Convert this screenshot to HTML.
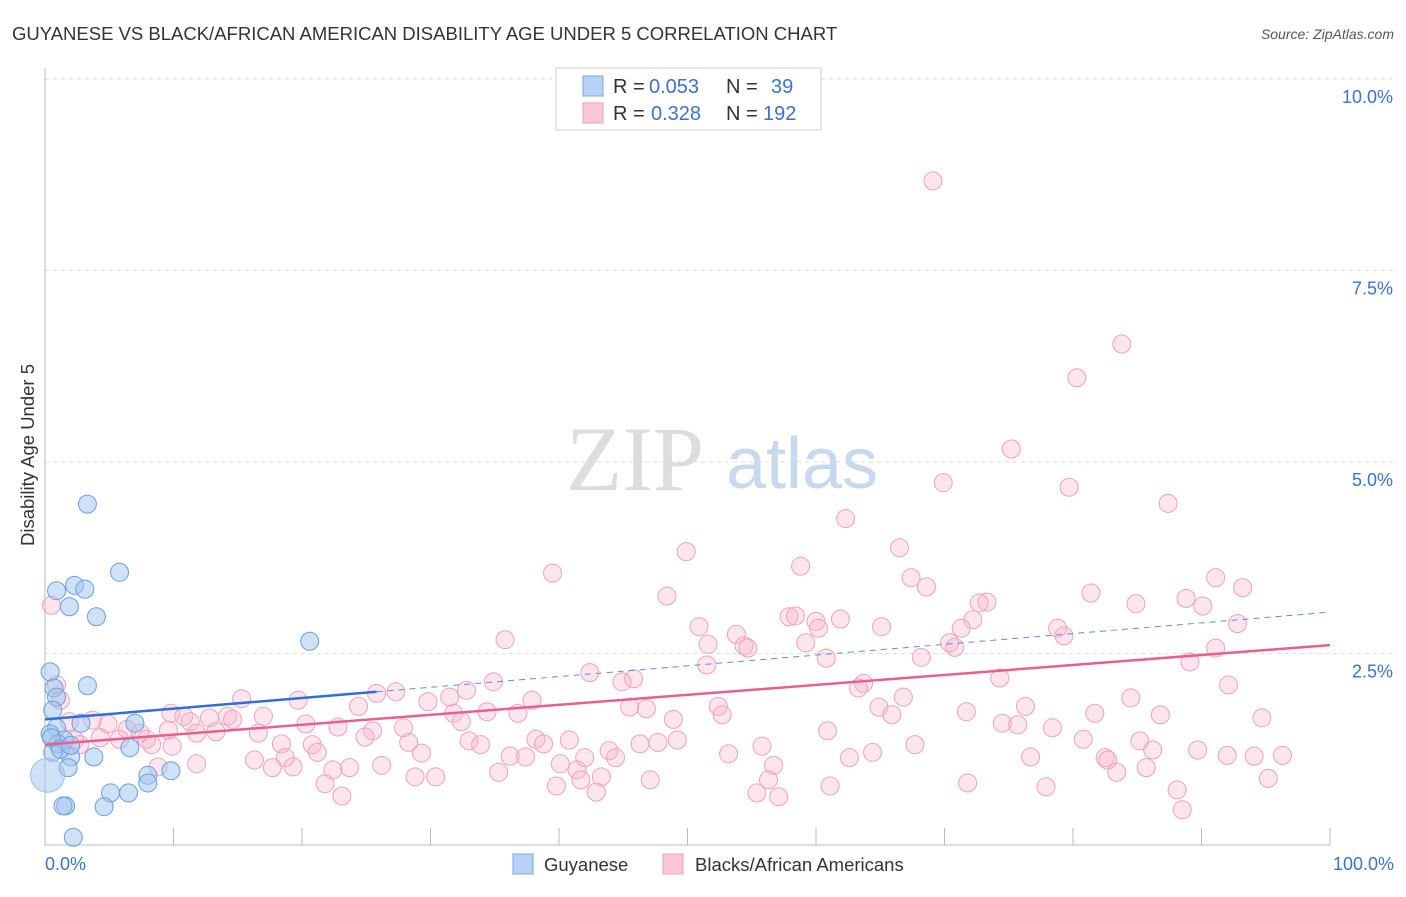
<!DOCTYPE html>
<html><head><meta charset="utf-8"><style>
body{margin:0;background:#fff;font-family:"Liberation Sans",sans-serif}
</style></head><body>
<svg id="c" width="1406" height="892" xmlns="http://www.w3.org/2000/svg">
<text x="12" y="40" font-size="18.5" fill="#333">GUYANESE VS BLACK/AFRICAN AMERICAN DISABILITY AGE UNDER 5 CORRELATION CHART</text>
<text x="1394" y="39" font-size="14" fill="#555" font-style="italic" text-anchor="end">Source: ZipAtlas.com</text>
<text x="34" y="455" font-size="18.5" fill="#333" text-anchor="middle" transform="rotate(-90 34 455)">Disability Age Under 5</text>
<g><text x="635" y="490" font-size="92" fill="#ddd" font-family="Liberation Serif,serif" text-anchor="middle">ZIP</text><text x="802" y="488" font-size="72" fill="#c8d8ee" text-anchor="middle">atlas</text></g>
<g id="grid"></g><g id="axes"></g><g id="pts"></g><g id="trend"></g>
<g>
<rect x="556" y="68" width="265" height="62" fill="#fff" stroke="#ccc"/>
<rect x="583" y="76" width="20" height="20" fill="#b8d2f6" stroke="#7aa8e6"/>
<rect x="583" y="103" width="20" height="20" fill="#f9c6d6" stroke="#f0a0b8"/>
<g font-size="20" fill="#333">
<text x="613" y="93">R =</text><text x="649" y="93" fill="#3a72cc">0.053</text><text x="726" y="93">N =</text><text x="771" y="93" fill="#3a72cc">39</text>
<text x="613" y="120">R =</text><text x="651" y="120" fill="#3a72cc">0.328</text><text x="726" y="120">N =</text><text x="763" y="120" fill="#3a72cc">192</text>
</g>
</g>
<g>
<rect x="513" y="854" width="20" height="20" fill="#b8d2f6" stroke="#7aa8e6"/>
<text x="544" y="871" font-size="18.5" fill="#333">Guyanese</text>
<rect x="663" y="854" width="20" height="20" fill="#f9c6d6" stroke="#f0a0b8"/>
<text x="695" y="871" font-size="18.5" fill="#333">Blacks/African Americans</text>
</g>
</svg>
<script>
const yTicks=[2.5,5,7.5,10];
const yTickLabels=["2.5%","5.0%","7.5%","10.0%"];
const xLabels=["0.0%","100.0%"];
const blueX=[3.3,5.8,2.3,3.1,0.9,1.9,4.0,20.6,0.4,3.3,0.7,0.9,0.6,2.8,7.0,0.9,0.4,1.5,1.0,6.6,3.8,2.0,0.6,1.8,8.0,9.8,8.0,5.1,6.5,1.6,1.4,4.6,2.2,0.5,1.2,2.0];
const blueY=[4.45,3.56,3.39,3.34,3.32,3.11,2.98,2.66,2.26,2.08,2.05,1.93,1.76,1.59,1.59,1.53,1.45,1.37,1.32,1.27,1.15,1.15,1.21,1.01,0.91,0.97,0.81,0.68,0.68,0.51,0.51,0.50,0.10,1.40,1.25,1.30];
const pinkX=[69.1,83.8,80.3,75.2,69.9,79.7,87.4,62.3,66.5,49.9,39.5,58.8,67.4,68.6,91.1,93.2,48.4,81.4,88.8,90.1,84.9,73.3,72.7,57.9,58.4,61.9,60.0,72.2,65.1,50.9,78.8,92.8,60.2,53.8,71.3,79.3,35.8,51.6,54.4,54.7,59.2,70.4,70.8,91.1,60.8,68.2,89.1,51.5,42.4,74.3,45.8,44.9,34.9,63.7,63.3,92.1,32.8,25.8,27.3,19.7,15.3,31.5,84.5,66.8,37.9,29.8,24.4,45.5,46.8,64.9,52.4,76.3,71.7,34.4,36.8,31.8,65.9,81.7,86.8,52.7,48.9,9.8,10.8,14.2,17.0,14.6,12.8,11.3,32.4,94.7,74.5,75.7,78.4,20.3,22.8,27.9,25.5,3.7,4.9,6.4,7.4,9.6,11.8,13.3,16.6,5.8,7.9,2.3,4.3,8.3,9.9,18.4,20.8,21.2,28.3,24.9,33.0,33.9,38.2,38.8,40.8,46.3,47.7,49.2,55.8,60.9,67.7,80.8,85.2,89.7,94.1,96.3,92.0,76.7,82.5,86.2,64.4,62.6,53.2,56.7,43.9,44.4,42.0,40.1,36.2,37.4,29.3,18.7,16.3,11.8,8.8,17.7,19.3,22.4,23.7,26.2,35.3,28.8,30.4,41.4,43.3,41.7,39.8,42.9,47.1,21.8,23.1,56.3,55.4,57.1,61.1,71.8,77.9,83.4,85.7,95.2,88.1,88.5,82.7,0.5,0.9,1.2,1.9,2.7];
const pinkY=[8.67,6.54,6.10,5.17,4.73,4.67,4.46,4.26,3.88,3.83,3.55,3.64,3.49,3.37,3.49,3.36,3.25,3.29,3.22,3.12,3.15,3.17,3.16,2.98,2.99,2.95,2.92,2.94,2.85,2.85,2.83,2.89,2.83,2.75,2.83,2.73,2.68,2.62,2.60,2.57,2.64,2.64,2.58,2.57,2.44,2.45,2.39,2.35,2.25,2.18,2.17,2.13,2.13,2.11,2.05,2.09,2.02,1.98,2.00,1.89,1.91,1.93,1.92,1.93,1.89,1.87,1.81,1.80,1.78,1.80,1.81,1.81,1.74,1.74,1.72,1.72,1.70,1.72,1.70,1.70,1.64,1.72,1.68,1.68,1.68,1.64,1.66,1.61,1.61,1.66,1.59,1.57,1.53,1.58,1.54,1.53,1.49,1.63,1.58,1.51,1.46,1.50,1.46,1.48,1.46,1.38,1.38,1.37,1.40,1.31,1.29,1.32,1.31,1.21,1.34,1.41,1.36,1.31,1.38,1.32,1.37,1.32,1.34,1.37,1.29,1.49,1.31,1.38,1.36,1.24,1.16,1.17,1.17,1.15,1.14,1.24,1.21,1.14,1.19,1.04,1.23,1.14,1.14,1.06,1.16,1.15,1.20,1.14,1.11,1.06,1.02,1.01,1.02,0.98,1.01,1.04,0.95,0.89,0.89,0.98,0.89,0.85,0.77,0.69,0.85,0.80,0.64,0.85,0.68,0.63,0.77,0.81,0.76,0.95,1.01,0.87,0.72,0.46,1.11,3.13,2.09,1.89,1.61,1.31];
const blueTrend=[1.64,2.0,3.04];
const blueTrendX=[0,25.8,100];
const pinkTrend=[1.31,2.61];
const pinkTrendX=[0,100];
const NS="http://www.w3.org/2000/svg";
const X=v=>45+v*12.85, Y=v=>845-v*76.6;
function mk(tag,attrs,parent){const e=document.createElementNS(NS,tag);for(const k in attrs)e.setAttribute(k,attrs[k]);parent.appendChild(e);return e;}
const g=document.getElementById('grid'),ax=document.getElementById('axes'),pts=document.getElementById('pts'),tr=document.getElementById('trend');
yTicks.forEach((t,i)=>{
 const l=mk('line',{x1:45,x2:1395,y1:Y(t),y2:Y(t),stroke:'#ddd','stroke-dasharray':'4,4'},g);
 
 
 const tx=mk('text',{x:1393,y:Y(t)+24,'font-size':18,fill:'#3a72cc','text-anchor':'end'},g);tx.textContent=yTickLabels[i];
 
 
});
const al=mk('line',{x1:45,x2:45,y1:68,y2:845,stroke:'#bbb'},ax);


const bl=mk('line',{x1:45,x2:1330,y1:845,y2:845,stroke:'#bbb'},ax);


for(let i=0;i<=10;i++){const t=mk('line',{x1:X(i*10),x2:X(i*10),y1:828,y2:845,stroke:'#bbb'},ax);
 
 }
[[0,'start',45],[100,'end',1394]].forEach((d,i)=>{const t=mk('text',{x:d[2],y:870,'font-size':18,fill:'#3a72cc','text-anchor':d[1]},ax);t.textContent=xLabels[i];
 
 });
pinkX.forEach((x,i)=>{const c=mk('circle',{cx:X(x),cy:Y(pinkY[i]),r:9,fill:'rgba(248,180,202,0.35)',stroke:'#f0a2ba','stroke-width':1},pts);
 
 });
blueX.forEach((x,i)=>{const c=mk('circle',{cx:X(x),cy:Y(blueY[i]),r:9,fill:'rgba(160,196,240,0.5)',stroke:'#6a9fe0','stroke-width':1},pts);
 
 });
const big=mk('circle',{cx:X(0.2),cy:Y(0.91),r:17,fill:'rgba(160,196,240,0.5)',stroke:'#9abde8'},pts);


const b1=mk('line',{x1:X(blueTrendX[0]),y1:Y(blueTrend[0]),x2:X(blueTrendX[1]),y2:Y(blueTrend[1]),stroke:'#2f6fd6','stroke-width':2.5},tr);


const b2=mk('line',{x1:X(blueTrendX[1]),y1:Y(blueTrend[1]),x2:X(blueTrendX[2]),y2:Y(blueTrend[2]),stroke:'#5b8fdc','stroke-width':1,'stroke-dasharray':'6,5'},tr);


const p1=mk('line',{x1:X(pinkTrendX[0]),y1:Y(pinkTrend[0]),x2:X(pinkTrendX[1]),y2:Y(pinkTrend[1]),stroke:'#e8608e','stroke-width':2.5},tr);


</script>
</body></html>
